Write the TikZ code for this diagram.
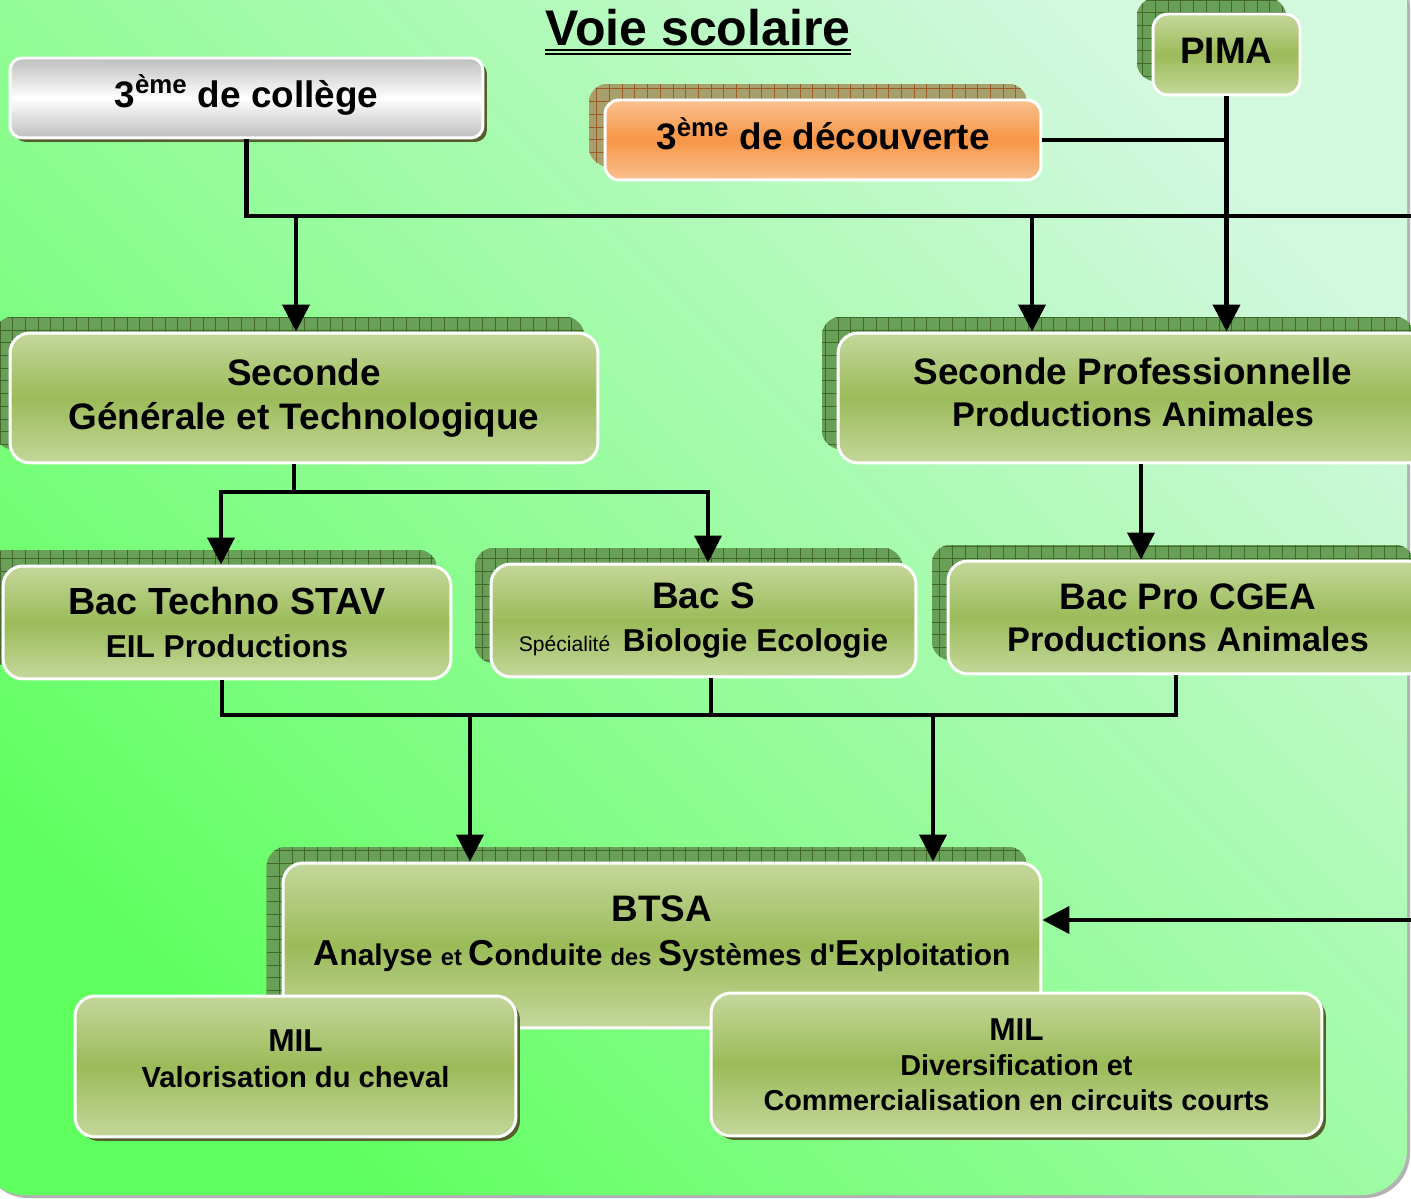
\documentclass[tikz,border=0pt]{standalone}
\usepackage{fontspec}
\setmainfont{Liberation Sans}
\usetikzlibrary{arrows.meta,shadows}
\definecolor{bgdark}{RGB}{96,255,96}
\definecolor{bglight}{RGB}{210,248,222}
\definecolor{boxlight}{RGB}{196,215,155}
\definecolor{boxmid}{RGB}{155,187,89}
\definecolor{orangelight}{RGB}{250,192,144}
\definecolor{orangemid}{RGB}{247,150,70}
\definecolor{greylight}{RGB}{190,190,190}
\definecolor{hatchgreen}{RGB}{104,160,88}
\definecolor{hatchline}{RGB}{66,104,44}
\definecolor{hatchtan}{RGB}{168,160,108}
\definecolor{hatchbrown}{RGB}{158,92,36}
\definecolor{oliveshade}{RGB}{84,94,46}

\pgfdeclarelayer{bg}
\pgfsetlayers{bg,main}

% grid shadow behind a box, shifted up and left
\newcommand{\hatchshadow}[3]{%
  \begin{scope}
    \clip[rounded corners=0.4cm] ([shift={(-15,-15)}]#1.south west) rectangle ([shift={(-15,-15)}]#1.north east);
    \fill[#2] ([shift={(-15,-15)}]#1.south west) rectangle ([shift={(-15,-15)}]#1.north east);
    \draw[#3, line width=0.5pt, step=0.254cm] ([shift={(-15,-15)}]#1.south west) grid ([shift={(-15,-15)}]#1.north east);
  \end{scope}}

\tikzset{
  stagebox/.style={draw=white, line width=1.7pt, rounded corners=0.4cm, align=center, inner sep=0pt, font=\bfseries\fontsize{21}{25}\selectfont},
  greenfill/.style={top color=boxlight, bottom color=boxlight, middle color=boxmid},
  orangefill/.style={top color=orangelight, bottom color=orangelight, middle color=orangemid},
  greyfill/.style={top color=greylight, bottom color=greylight, middle color=white},
  solidshadow/.style={general shadow={shadow xshift=0.08cm, shadow yshift=-0.08cm, fill=oliveshade}},
  conn/.style={line width=2.3pt},
  arr/.style={conn, -{Triangle[length=0.54cm, width=0.54cm]}},
  titletext/.style={inner sep=0pt, font=\bfseries\fontsize{28.5}{32}\selectfont},
}

\begin{document}
\begin{tikzpicture}[x=0.02cm, y=-0.02cm]
    \useasboundingbox (0,0) rectangle (1411,1199);

    % Slide background
    \begin{pgfonlayer}{bg}
        \fill[white] (0,0) rectangle (1411,1199);
        \fill[gray!60, rounded corners=0.9cm] (-17,-37) rectangle (1410,1198);
        \shade[rounded corners=0.9cm, top color=bglight, bottom color=bgdark, shading angle=-45] (-20,-40) rectangle (1407,1195);
    \end{pgfonlayer}

    % Title
    \node[titletext] (title) at (698,28) {Voie scolaire};
    \draw[line width=1pt] ([yshift=-2.3pt]title.base west) -- ([yshift=-2.3pt]title.base east);
    \draw[line width=1.3pt] ([yshift=-4.6pt]title.base west) -- ([yshift=-4.6pt]title.base east);

    % Entry classes
    \node[stagebox, greyfill, solidshadow, rounded corners=0.24cm, minimum width=9.46cm, minimum height=1.6cm] (college) at (246.5,98) {\raisebox{1.7pt}[\height][\depth]{3\textsuperscript{ème} de collège}};
    \node[stagebox, orangefill, rounded corners=0.28cm, minimum width=8.72cm, minimum height=1.6cm] (decouv) at (823,140) {\raisebox{3.4pt}[\height][\depth]{3\textsuperscript{ème} de découverte}};
    \node[stagebox, greenfill, rounded corners=0.3cm, minimum width=2.94cm, minimum height=1.62cm] (pima) at (1226.5,54.5) {\raisebox{2.3pt}[\height][\depth]{PIMA}};

    % Seconde
    \node[stagebox, greenfill, minimum width=11.76cm, minimum height=2.6cm] (secgt) at (304,398) {Seconde\\Générale et Technologique};
    \node[stagebox, greenfill, minimum width=11.8cm, minimum height=2.6cm] (secpro) at (1133,398) {Seconde Professionnelle\\[-1pt]{\fontsize{19.5}{24}\selectfont Productions Animales}\\[-18pt]\mbox{}};

    % Bac
    \node[stagebox, greenfill, minimum width=8.96cm, minimum height=2.26cm] (stav) at (227,622.5) {{\fontsize{21.5}{23}\selectfont Bac Techno STAV}\\{\fontsize{18}{23}\selectfont EIL Productions}};
    \node[stagebox, greenfill, minimum width=8.5cm, minimum height=2.26cm] (bacs) at (703.5,620.5) {Bac S\\[-1pt]{\mdseries\fontsize{12}{23}\selectfont Spécialité}\hspace{0.25cm}{\fontsize{18}{23}\selectfont Biologie Ecologie}};
    \node[stagebox, greenfill, minimum width=9.6cm, minimum height=2.26cm] (bacpro) at (1188,617.5) {Bac Pro CGEA\\[-1pt]{\fontsize{19.5}{23}\selectfont Productions Animales}};

    % BTSA and MIL
    \node[stagebox, greenfill, minimum width=15.16cm, minimum height=3.3cm] (btsa) at (662,945.5) {BTSA\\{\fontsize{20.5}{25}\selectfont A}{\fontsize{17}{25}\selectfont nalyse }{\fontsize{13.5}{25}\selectfont et }{\fontsize{20.5}{25}\selectfont C}{\fontsize{17}{25}\selectfont onduite }{\fontsize{13.5}{25}\selectfont des }{\fontsize{20.5}{25}\selectfont S}{\fontsize{17}{25}\selectfont ystèmes d\textquotesingle}{\fontsize{20.5}{25}\selectfont E}{\fontsize{17}{25}\selectfont xploitation}\\[-8pt]\mbox{}};
    \node[stagebox, greenfill, solidshadow, font=\bfseries\fontsize{18}{21}\selectfont, minimum width=8.82cm, minimum height=2.82cm] (mil1) at (295.5,1066.5) {MIL\\{\fontsize{16.6}{21}\selectfont Valorisation du cheval}\\[-12pt]\mbox{}};
    \node[stagebox, greenfill, solidshadow, font=\bfseries\fontsize{18}{20}\selectfont, minimum width=12.22cm, minimum height=2.86cm] (mil2) at (1016.5,1064.5) {MIL\\{\fontsize{16.4}{20}\selectfont Diversification et}\\{\fontsize{16.4}{20}\selectfont Commercialisation en circuits courts}};

    % Grid shadows
    \begin{pgfonlayer}{bg}
        \hatchshadow{decouv}{hatchtan}{hatchbrown}
        \foreach \n in {pima,secgt,secpro,stav,bacs,bacpro,btsa}
            \hatchshadow{\n}{hatchgreen}{hatchline};
    \end{pgfonlayer}

    % From 3eme to Seconde
    \coordinate (busA) at (1411,216);
    \coordinate (toGT) at (296,216);
    \coordinate (toPro) at (1032,216);
    \draw[conn] (college.south) |- (busA);
    \draw[arr] (toGT) -- (toGT |- secgt.north);
    \draw[arr] (toPro) -- (toPro |- secpro.north);
    \draw[conn] (decouv.east) -- (decouv.east -| pima.south);
    \draw[arr] (pima.south) -- (pima.south |- secpro.north);

    % From Seconde to Bac
    \coordinate (splitGT) at (294,492);
    \coordinate (toSTAV) at (221,492);
    \coordinate (toS) at (708,492);
    \coordinate (toCGEA) at (1141,500);
    \draw[conn] (splitGT |- secgt.south) -- (splitGT);
    \draw[conn, {Triangle[length=0.54cm, width=0.54cm]}-{Triangle[length=0.54cm, width=0.54cm]}] (toSTAV |- stav.north) -- (toSTAV) -- (toS) -- (toS |- bacs.north);
    \draw[arr] (toCGEA |- secpro.south) -- (toCGEA |- bacpro.north);

    % From Bac to BTSA
    \coordinate (busCw) at (222,715);
    \coordinate (busCs) at (711,715);
    \coordinate (busCe) at (1176,715);
    \coordinate (toBTSAw) at (470,715);
    \coordinate (toBTSAe) at (933,715);
    \draw[conn] (busCw |- stav.south) -- (busCw) -- (busCe) -- (busCe |- bacpro.south);
    \draw[conn] (busCs |- bacs.south) -- (busCs);
    \draw[arr] (toBTSAw) -- (toBTSAw |- btsa.north);
    \draw[arr] (toBTSAe) -- (toBTSAe |- btsa.north);
    \coordinate (fromEast) at (1411,920);
    \draw[arr] (fromEast) -- (fromEast -| btsa.east);
\end{tikzpicture}
\end{document}
